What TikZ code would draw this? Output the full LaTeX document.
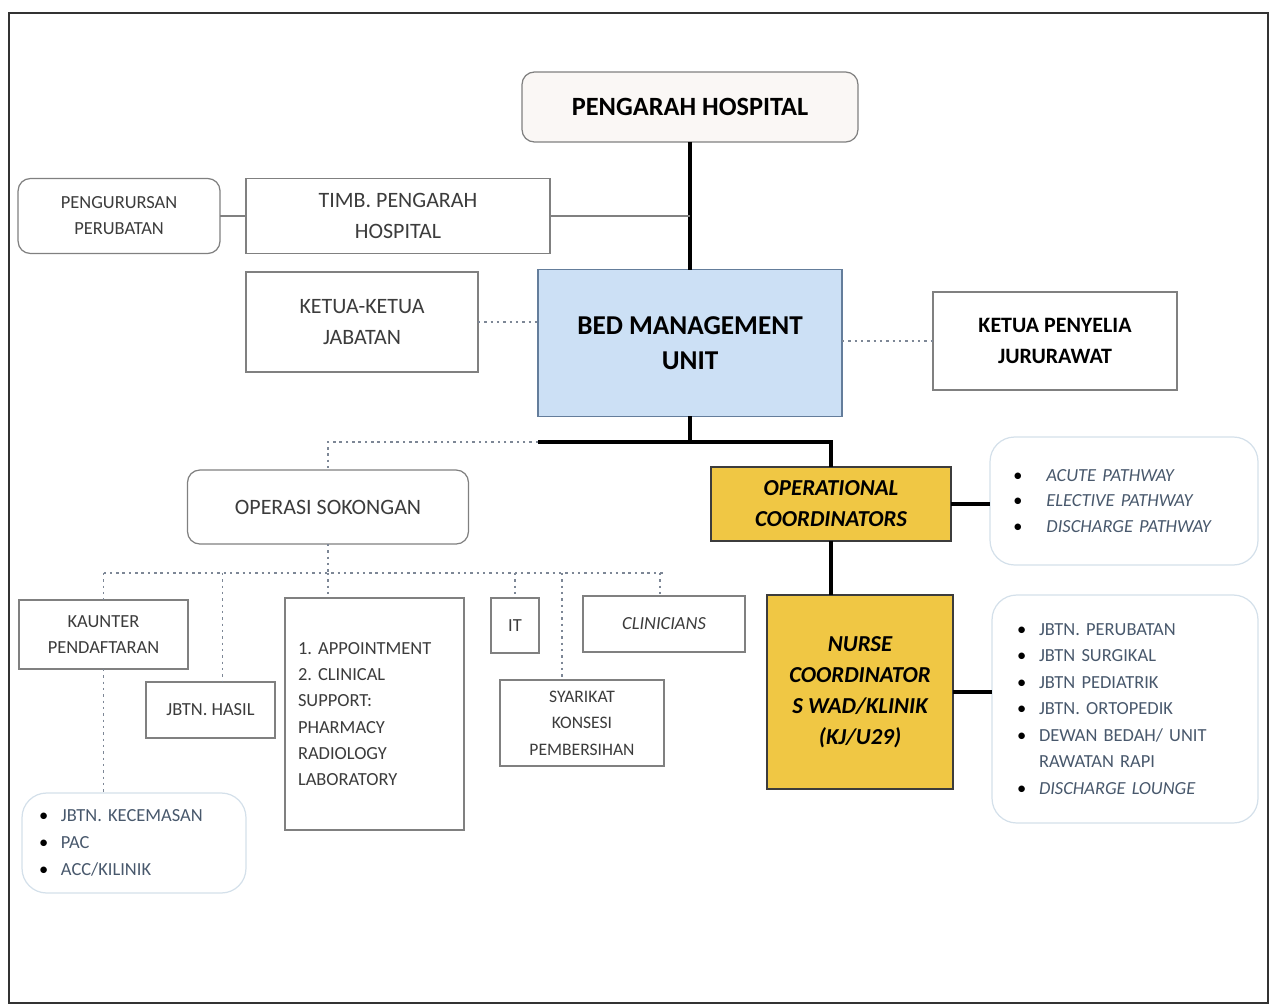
\documentclass[tikz,border=0pt]{standalone}
\usepackage{fontspec}
\setmainfont{Carlito}
\usetikzlibrary{positioning}
\definecolor{bedblue}{RGB}{204,224,245}
\definecolor{bededge}{RGB}{100,125,155}
\definecolor{coordgold}{RGB}{240,199,68}
\definecolor{boxgrey}{RGB}{128,128,128}
\definecolor{inkgrey}{RGB}{60,60,60}
\definecolor{listink}{RGB}{72,88,108}
\definecolor{listedge}{RGB}{212,224,234}
\definecolor{dotgrey}{RGB}{125,135,150}
\definecolor{chiefwhite}{RGB}{250,247,245}
\frenchspacing
\newcommand{\pbul}[2]{\mbox{\makebox[#1][l]{\textcolor{black}{\textbullet}}#2}}
\tikzset{
unit/.style={draw=boxgrey, line width=0.7pt, fill=white, text=inkgrey, align=center, outer sep=0pt, inner sep=2pt}, % plain square box
roundunit/.style={unit, rounded corners=7pt}, % same box with soft corners
listbox/.style={draw=listedge, line width=0.7pt, rounded corners=14pt, text=listink, align=left, outer sep=0pt}, % bullet list panels
coord/.style={draw=inkgrey, line width=0.8pt, fill=coordgold, text=black, align=center, outer sep=0pt, font=\fontsize{13}{17.6}\selectfont\bfseries\itshape}, % gold coordinator boxes
trunk/.style={line width=2.4pt, black}, % main chain of command
branch/.style={line width=0.9pt, boxgrey}, % thin solid link
dotlink/.style={line width=1.1pt, dotgrey, dash pattern=on 1.4pt off 2.2pt}, % dotted liaison link
}
\begin{document}
\begin{tikzpicture}[x=0.02cm, y=-0.02cm]
      \useasboundingbox (0,0) rectangle (1280,1007);
      \draw[line width=1.5pt, black!80] (9,13) rectangle (1268,1003);

      % top of the chart
      \node[roundunit, fill=chiefwhite, text=black, minimum width=6.72cm, minimum height=1.40cm, font=\fontsize{15}{20}\selectfont\bfseries] (pengarah) at (690,107) {PENGARAH HOSPITAL};
      \node[unit, minimum width=6.08cm, minimum height=1.50cm, font=\fontsize{12.5}{18}\selectfont] (timb) at (398,216) {TIMB. PENGARAH\\HOSPITAL};
      \node[roundunit, minimum width=4.04cm, minimum height=1.50cm, font=\fontsize{10.5}{14.8}\selectfont, left=0.52cm of timb] (perubatan) {PENGURURSAN\\PERUBATAN};
      \node[unit, minimum width=4.64cm, minimum height=2.00cm, font=\fontsize{12.5}{18}\selectfont] (ketua) at (362,322) {KETUA-KETUA\\JABATAN};
      \node[unit, draw=bededge, fill=bedblue, text=black, minimum width=6.08cm, minimum height=2.94cm, font=\fontsize{15.5}{20}\selectfont\bfseries] (bmu) at (690,343) {BED MANAGEMENT\\UNIT};
      \node[unit, text=black, minimum width=4.88cm, minimum height=1.96cm, font=\fontsize{12.5}{18}\selectfont\bfseries] (penyelia) at (1055,341) {KETUA PENYELIA\\JURURAWAT};

      % coordinators
      \node[coord, minimum width=4.80cm, minimum height=1.48cm] (opcoord) at (831,504) {OPERATIONAL\\COORDINATORS};
      \node[listbox, minimum width=5.36cm, minimum height=2.56cm, inner xsep=0.46cm, text width=4.44cm, font=\fontsize{10.5}{14.6}\selectfont\itshape] (pathways) at (1124,501)
        {\pbul{19pt}{ACUTE PATHWAY}\\\pbul{19pt}{ELECTIVE PATHWAY}\\\pbul{19pt}{DISCHARGE PATHWAY}};
      \node[coord, minimum width=3.72cm, minimum height=3.88cm] (nurse) at (860,692) {NURSE\\COORDINATOR\\S WAD/KLINIK\\(KJ/U29)};
      \node[listbox, minimum width=5.32cm, minimum height=4.56cm, inner xsep=0.50cm, text width=4.32cm, font=\fontsize{10.5}{15.1}\selectfont] (wards) at (1125,709)
        {\pbul{12.5pt}{JBTN. PERUBATAN}\\\pbul{12.5pt}{JBTN SURGIKAL}\\\pbul{12.5pt}{JBTN PEDIATRIK}\\\pbul{12.5pt}{JBTN. ORTOPEDIK}\\\pbul{12.5pt}{DEWAN BEDAH/ UNIT}\\\hspace*{12.5pt}RAWATAN RAPI\\\pbul{12.5pt}{\itshape DISCHARGE LOUNGE}};

      % support services
      \node[roundunit, minimum width=5.62cm, minimum height=1.48cm, font=\fontsize{12.5}{18}\selectfont] (operasi) at (328,507) {OPERASI SOKONGAN};
      \node[unit, minimum width=3.38cm, minimum height=1.38cm, font=\fontsize{10.5}{14.8}\selectfont] (kaunter) at (103.5,634.5) {KAUNTER\\PENDAFTARAN};
      \node[unit, minimum width=2.58cm, minimum height=1.12cm, font=\fontsize{10.5}{14.8}\selectfont] (hasil) at (210.5,710) {JBTN. HASIL};
      \node[unit, minimum width=3.58cm, minimum height=4.64cm, inner xsep=0.26cm, text width=3.06cm, align=left, font=\fontsize{10.5}{15}\selectfont] (support) at (374.5,714)
        {\mbox{1. APPOINTMENT}\\\mbox{2. CLINICAL}\\SUPPORT:\\PHARMACY\\RADIOLOGY\\LABORATORY};
      \node[unit, minimum width=0.96cm, minimum height=1.10cm, font=\fontsize{10.5}{14.8}\selectfont] (it) at (515,625.5) {IT};
      \node[unit, minimum width=3.24cm, minimum height=1.12cm, font=\fontsize{10.5}{14.8}\selectfont\itshape] (clinicians) at (664,624) {CLINICIANS};
      \node[unit, minimum width=3.28cm, minimum height=1.72cm, font=\fontsize{10}{15}\selectfont] (syarikat) at (582,723) {SYARIKAT\\KONSESI\\PEMBERSIHAN};
      \node[listbox, minimum width=4.48cm, minimum height=2.00cm, inner xsep=0.34cm, text width=3.80cm, font=\fontsize{10.5}{15.3}\selectfont] (kecemasan) at (134,843)
        {\pbul{12.5pt}{JBTN. KECEMASAN}\\\pbul{12.5pt}{PAC}\\\pbul{12.5pt}{ACC/KILINIK}};

      % solid lines
      \coordinate (split) at (690,442);
      \coordinate (splitleft) at (538,442);
      \draw[trunk] (pengarah) edge (bmu)
      (bmu) edge (split)
      (splitleft) -- (split) -| (opcoord.north);
      \draw[trunk] (opcoord.south) -- (opcoord.south |- nurse.north);
      \draw[trunk] (opcoord.east) -- (opcoord.east -| pathways.west);
      \draw[trunk] (nurse.east) -- (nurse.east -| wards.west);
      \draw[branch] (perubatan) edge (timb)
      (timb.east) -- (timb.east -| pengarah.south);

      % dotted lines
      \coordinate (bus) at (328,573);
      \draw[dotlink] (ketua.east) -- (ketua.east -| bmu.west);
      \draw[dotlink] (bmu.east |- penyelia.west) -- (penyelia.west);
      \draw[dotlink] (splitleft) -| (operasi.north);
      \draw[dotlink] (operasi.south) -- (bus);
      \draw[dotlink] (kaunter.north |- bus) -- (clinicians.north |- bus);
      \draw[dotlink] (kaunter.north |- bus) -- (kaunter.north);
      \draw[dotlink] ([xshift=0.24cm]hasil.north |- bus) -- ([xshift=0.24cm]hasil.north);
      \draw[dotlink] (bus) -- (bus |- support.north);
      \draw[dotlink] (it.north |- bus) -- (it.north);
      \draw[dotlink] ([xshift=-0.40cm]syarikat.north |- bus) -- ([xshift=-0.40cm]syarikat.north);
      \draw[dotlink] ([xshift=-0.08cm]clinicians.north |- bus) -- ([xshift=-0.08cm]clinicians.north);
      \draw[dotlink] (kaunter.south) -- (kaunter.south |- kecemasan.north);
\end{tikzpicture}
\end{document}
